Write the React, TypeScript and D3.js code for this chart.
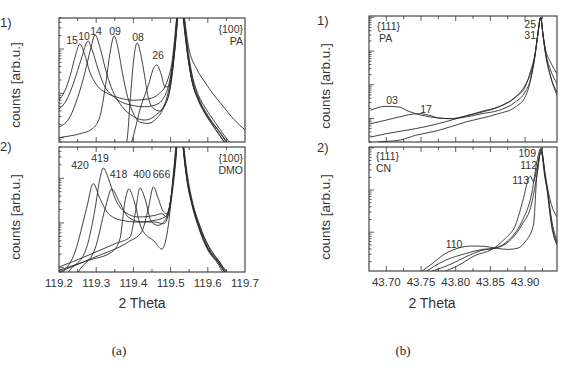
import React from "react";
import * as d3 from "d3";

type Pt = [number, number];

// (a) 1) {100} PA — 2θ, counts
const pa100_15: Pt[] = [
  [119.2, 7.1], [119.215, 11], [119.23, 25], [119.245, 75], [119.256, 130], [119.268, 80], [119.283, 30],
  [119.3, 16], [119.33, 10], [119.36, 8], [119.4, 7], [119.44, 7.5], [119.47, 10], [119.49, 18], [119.505, 60],
  [119.515, 400], [119.525, 3000], [119.535, 450], [119.545, 95], [119.558, 25], [119.575, 9], [119.595, 4.5],
  [119.62, 2.2], [119.645, 1.1], [119.67, 0.6],
];
const pa100_10: Pt[] = [
  [119.2, 4.4], [119.22, 7], [119.24, 18], [119.26, 60], [119.278, 151], [119.29, 90], [119.305, 35],
  [119.32, 16], [119.35, 8], [119.39, 5.5], [119.43, 5], [119.46, 5.5], [119.485, 9], [119.5, 25],
  [119.512, 150], [119.525, 3000], [119.535, 700], [119.548, 115], [119.57, 36], [119.592, 18],
  [119.615, 9.5], [119.638, 5.5], [119.67, 2.6], [119.7, 1.5],
];
const pa100_14: Pt[] = [
  [119.2, 1.74], [119.23, 3], [119.25, 8], [119.27, 30], [119.285, 100], [119.297, 207], [119.31, 110],
  [119.325, 35], [119.34, 14], [119.37, 5], [119.4, 3], [119.43, 2.5], [119.46, 3.2], [119.485, 6],
  [119.5, 20], [119.51, 80], [119.518, 400], [119.527, 3000], [119.538, 400], [119.548, 80], [119.56, 20],
  [119.578, 7], [119.6, 3.2], [119.625, 1.6], [119.65, 0.8], [119.665, 0.6],
];
const pa100_09: Pt[] = [
  [119.2, 1.0], [119.23, 1.1], [119.26, 1.25], [119.29, 1.6], [119.31, 3], [119.325, 15], [119.338, 90],
  [119.348, 196], [119.358, 110], [119.37, 30], [119.385, 8], [119.4, 3.5], [119.42, 2.2], [119.44, 2.1],
  [119.46, 2.6], [119.48, 4.5], [119.5, 15], [119.51, 70], [119.518, 400], [119.525, 3000], [119.535, 500],
  [119.545, 90], [119.556, 22], [119.573, 8], [119.59, 4], [119.615, 2], [119.64, 1.1], [119.66, 0.6],
];
const pa100_08: Pt[] = [
  [119.37, 0.5], [119.382, 0.8], [119.392, 8], [119.4, 50], [119.41, 137], [119.42, 75], [119.43, 25],
  [119.44, 8], [119.455, 4.5], [119.47, 4], [119.485, 5.5], [119.5, 15], [119.51, 80], [119.518, 500],
  [119.525, 3000], [119.535, 500], [119.545, 85], [119.557, 20], [119.575, 7], [119.595, 3.2],
  [119.62, 1.6], [119.645, 0.8], [119.66, 0.6],
];
const pa100_26: Pt[] = [
  [119.385, 0.5], [119.395, 0.8], [119.42, 5], [119.44, 15], [119.455, 38], [119.463, 43.5], [119.474, 28],
  [119.485, 14], [119.494, 14], [119.503, 30], [119.512, 150], [119.525, 3000], [119.535, 400],
  [119.545, 80], [119.557, 20], [119.574, 7], [119.592, 3.8], [119.615, 1.8], [119.64, 0.9], [119.655, 0.6],
];

// (a) 2) {100} DMO
const dmo420: Pt[] = [
  [119.2, 0.7], [119.243, 2.24], [119.274, 20.9], [119.292, 76], [119.31, 35], [119.333, 16.1],
  [119.368, 11.5], [119.413, 10.5], [119.458, 11.5], [119.485, 13.6], [119.498, 24.8], [119.512, 231],
  [119.526, 3000], [119.534, 500], [119.543, 116], [119.557, 29.4], [119.575, 8.85], [119.601, 2.66],
  [119.628, 1.34], [119.646, 0.8], [119.66, 0.6],
];
const dmo419: Pt[] = [
  [119.21, 0.5], [119.225, 0.8], [119.27, 2.24], [119.297, 20.9], [119.31, 98], [119.319, 170],
  [119.333, 98], [119.351, 35], [119.377, 17.6], [119.413, 13.6], [119.458, 14.8], [119.476, 16.1],
  [119.49, 13.6], [119.503, 49], [119.514, 326], [119.526, 3000], [119.535, 550], [119.545, 120],
  [119.558, 32], [119.577, 9.5], [119.603, 2.8], [119.63, 1.4], [119.65, 0.8], [119.665, 0.6],
];
const dmo418: Pt[] = [
  [119.24, 0.5], [119.252, 0.8], [119.297, 2.66], [119.324, 20.9], [119.342, 58], [119.36, 32],
  [119.386, 13.6], [119.422, 10.5], [119.458, 10.5], [119.481, 9.6], [119.498, 20.9], [119.512, 164],
  [119.526, 3000], [119.534, 480], [119.543, 110], [119.557, 28], [119.575, 8.5], [119.601, 2.5],
  [119.628, 1.3], [119.648, 0.75], [119.66, 0.6],
];
const dmoMid: Pt[] = [
  [119.2, 0.87], [119.279, 1.46], [119.342, 2.24], [119.364, 4.45], [119.377, 29.4], [119.388, 58],
  [119.4, 35], [119.422, 7.5], [119.458, 3.75], [119.476, 2.6], [119.494, 8.85], [119.507, 116],
  [119.526, 3000], [119.534, 450], [119.543, 100], [119.557, 26], [119.575, 8], [119.601, 2.4],
  [119.628, 1.2], [119.64, 0.8], [119.655, 0.6],
];
const dmo400: Pt[] = [
  [119.2, 1.03], [119.279, 1.9], [119.351, 3.44], [119.391, 4.85], [119.404, 14.8], [119.418, 60.5],
  [119.431, 35], [119.449, 10.5], [119.467, 8.85], [119.485, 11.5], [119.498, 24.8], [119.512, 195],
  [119.526, 3000], [119.535, 500], [119.545, 100], [119.557, 30], [119.577, 9], [119.605, 2.8],
  [119.63, 1.4], [119.655, 0.7],
];
const dmo666: Pt[] = [
  [119.2, 0.8], [119.297, 1.73], [119.386, 3.75], [119.422, 6.3], [119.44, 20.9], [119.454, 64],
  [119.467, 35], [119.481, 17.6], [119.49, 16.1], [119.503, 49], [119.512, 231], [119.526, 3000],
  [119.534, 520], [119.543, 115], [119.557, 30], [119.575, 9], [119.601, 2.7], [119.628, 1.35],
  [119.648, 0.75], [119.66, 0.6],
];

// (b) 1) {111} PA
const pa111_03: Pt[] = [
  [43.677, 17.4], [43.6986, 22.9], [43.7177, 21.9], [43.732, 16.3], [43.7513, 12.4], [43.775, 10.3],
  [43.794, 9.85], [43.814, 11], [43.838, 13.9], [43.862, 17.4], [43.886, 30.7], [43.9, 61], [43.908, 150],
  [43.914, 700], [43.918, 2800], [43.9225, 10000], [43.926, 2800], [43.93, 750], [43.936, 200], [43.946, 48.5],
];
const pa111_17: Pt[] = [
  [43.677, 7.0], [43.6986, 8.8], [43.7177, 11], [43.7465, 13.9], [43.766, 11.8], [43.775, 10.3],
  [43.794, 9.85], [43.814, 11.8], [43.838, 15.5], [43.862, 21.9], [43.886, 43], [43.9, 96], [43.908, 220],
  [43.914, 700], [43.918, 2800], [43.9225, 10000], [43.926, 2800], [43.93, 800], [43.936, 300], [43.946, 108],
];
const pa111_25: Pt[] = [
  [43.677, 2.8], [43.7, 3.53], [43.742, 4.97], [43.775, 7.0], [43.814, 11.8], [43.838, 16.3],
  [43.862, 22.4], [43.886, 43], [43.9, 86], [43.908, 260], [43.914, 750], [43.918, 2800], [43.9225, 10000],
  [43.926, 3000], [43.93, 1000], [43.936, 500], [43.946, 213],
];
const pa111_31: Pt[] = [
  [43.675, 1.7], [43.689, 2.0], [43.7177, 2.24], [43.742, 3.15], [43.775, 4.4], [43.814, 7.8],
  [43.838, 10.3], [43.862, 13.9], [43.886, 21.9], [43.9, 43], [43.908, 140], [43.914, 650], [43.918, 2700],
  [43.9225, 10000], [43.926, 2700], [43.93, 700], [43.936, 200], [43.946, 60],
];

// (b) 2) {111} CN
const cn110: Pt[] = [
  [43.745, 1.0], [43.766, 1.79], [43.785, 3.1], [43.804, 4.2], [43.823, 4.7], [43.842, 4.6], [43.857, 4.2],
  [43.876, 3.9], [43.89, 4.2], [43.9, 5.9], [43.912, 14.6], [43.917, 224], [43.92, 500], [43.923, 950],
  [43.926, 520], [43.929, 240], [43.932, 120], [43.938, 45], [43.946, 23],
];
const cn109: Pt[] = [
  [43.755, 1.0], [43.761, 1.1], [43.7945, 1.79], [43.814, 2.58], [43.838, 3.7], [43.857, 4.2], [43.876, 6.4],
  [43.895, 17.5], [43.91, 90], [43.917, 466], [43.923, 1000], [43.929, 224], [43.932, 110], [43.938, 21],
  [43.946, 5.9],
];
const cn112: Pt[] = [
  [43.751, 1.0], [43.785, 2.15], [43.814, 3.1], [43.838, 3.9], [43.857, 4.2], [43.876, 5.9], [43.895, 14.6],
  [43.91, 52], [43.917, 224], [43.923, 900], [43.929, 200], [43.932, 90], [43.938, 14.6], [43.946, 4.9],
];
const cn113: Pt[] = [
  [43.78, 1.1], [43.804, 1.64], [43.828, 2.8], [43.852, 3.9], [43.871, 7.0], [43.886, 14.6], [43.8976, 62.7],
  [43.905, 187], [43.908, 213], [43.912, 156], [43.917, 323], [43.923, 805], [43.929, 180], [43.932, 108],
  [43.938, 17], [43.946, 5.35],
];

const xTicksA = [119.2, 119.3, 119.4, 119.5, 119.6, 119.7];
const xTicksB = [43.7, 43.75, 43.8, 43.85, 43.9];

const FONT = "'Liberation Sans', Arial, Helvetica, sans-serif";
const INK = "#333";

type Box = { l: number; r: number; t: number; b: number };
type Note = { text: string; dx: number; y: number; anchor?: string };

type PanelProps = {
  id: string;
  box: Box;
  xDomain: [number, number];
  yDomain: [number, number];
  series: Pt[][];
  major: number[];
  minorStep: number;
  fmt: string;
  showLabels: boolean;
  notes: Note[];
};

function Panel({ id, box, xDomain, yDomain, series, major, minorStep, fmt, showLabels, notes }: PanelProps) {
  const x = d3.scaleLinear().domain(xDomain).range([box.l, box.r]);
  const y = d3.scaleLog().domain(yDomain).range([box.b, box.t]);
  const line = d3
    .line<Pt>()
    .x((d) => x(d[0]))
    .y((d) => y(d[1]))
    .curve(d3.curveMonotoneX);

  const minor = d3
    .range(major[0] - minorStep * 4, xDomain[1] + 1e-9, minorStep)
    .filter((v) => v > xDomain[0] + 1e-6 && v < xDomain[1] - 1e-6);
  const yTicks = y.ticks();
  const isDecade = (t: number) => Math.abs(Math.log10(t) - Math.round(Math.log10(t))) < 1e-6;
  const f = d3.format(fmt);

  return (
    <g>
      <defs>
        <clipPath id={id}>
          <rect x={box.l} y={box.t} width={box.r - box.l} height={box.b - box.t} />
        </clipPath>
      </defs>
      <g clipPath={`url(#${id})`} fill="none" stroke="#2b2b2b" strokeWidth={0.9}>
        {series.map((s, i) => (
          <path key={i} d={line(s) ?? ""} />
        ))}
      </g>
      <g stroke={INK} strokeWidth={0.8}>
        {minor.map((v, i) => {
          const isMajor = major.some((m) => Math.abs(m - v) < 1e-6);
          const len = isMajor ? 5 : 3;
          return (
            <g key={i}>
              <line x1={x(v)} x2={x(v)} y1={box.b} y2={box.b - len} />
              <line x1={x(v)} x2={x(v)} y1={box.t} y2={box.t + len} />
            </g>
          );
        })}
        {yTicks.map((t, i) => {
          const len = isDecade(t) ? 5 : 2.5;
          return <line key={i} x1={box.l} x2={box.l + len} y1={y(t)} y2={y(t)} />;
        })}
      </g>
      <rect
        x={box.l}
        y={box.t}
        width={box.r - box.l}
        height={box.b - box.t}
        fill="none"
        stroke={INK}
        strokeWidth={1.1}
      />
      {showLabels &&
        major.map((v, i) => (
          <text key={i} x={x(v)} y={box.b + 14.5} textAnchor="middle" fontSize={11.5} fill={INK}>
            {f(v)}
          </text>
        ))}
      {notes.map((n, i) => (
        <text
          key={i}
          x={box.l + n.dx}
          y={n.y}
          textAnchor={n.anchor ?? "middle"}
          fontSize={10.5}
          fill={INK}
        >
          {n.text}
        </text>
      ))}
    </g>
  );
}

export default function App() {
  const boxA1: Box = { l: 59, r: 245, t: 18, b: 142 };
  const boxA2: Box = { l: 59, r: 245, t: 147, b: 272 };
  const boxB1: Box = { l: 369, r: 557, t: 16, b: 142 };
  const boxB2: Box = { l: 369, r: 557, t: 147, b: 271 };

  return (
    <svg
      width={562}
      height={373}
      style={{ position: "absolute", left: 0, top: 0, background: "#fff" }}
      fontFamily={FONT}
    >
      <Panel
        id="clipA1"
        box={boxA1}
        xDomain={[119.2, 119.7]}
        yDomain={[0.8, 500]}
        series={[pa100_15, pa100_10, pa100_14, pa100_09, pa100_08, pa100_26]}
        major={xTicksA}
        minorStep={0.05}
        fmt=".1f"
        showLabels={false}
        notes={[
          { text: "15", dx: 13, y: 44 },
          { text: "10", dx: 25, y: 40 },
          { text: "14", dx: 37, y: 35 },
          { text: "09", dx: 56, y: 35 },
          { text: "08", dx: 79, y: 41 },
          { text: "26", dx: 99, y: 59 },
          { text: "{100}", dx: 184, y: 32.5, anchor: "end" },
          { text: "PA", dx: 184, y: 44.5, anchor: "end" },
        ]}
      />
      <Panel
        id="clipA2"
        box={boxA2}
        xDomain={[119.2, 119.7]}
        yDomain={[0.8, 500]}
        series={[dmo420, dmo419, dmo418, dmoMid, dmo400, dmo666]}
        major={xTicksA}
        minorStep={0.05}
        fmt=".1f"
        showLabels={true}
        notes={[
          { text: "420", dx: 21, y: 169 },
          { text: "419", dx: 41, y: 162 },
          { text: "418", dx: 59.5, y: 178 },
          { text: "400", dx: 83, y: 178 },
          { text: "666", dx: 102.5, y: 178 },
          { text: "{100}", dx: 184, y: 162, anchor: "end" },
          { text: "DMO", dx: 184, y: 174, anchor: "end" },
        ]}
      />
      <Panel
        id="clipB1"
        box={boxB1}
        xDomain={[43.675, 43.946]}
        yDomain={[2, 11000]}
        series={[pa111_03, pa111_17, pa111_25, pa111_31]}
        major={xTicksB}
        minorStep={0.025}
        fmt=".2f"
        showLabels={false}
        notes={[
          { text: "{111}", dx: 8, y: 30, anchor: "start" },
          { text: "PA", dx: 10, y: 42, anchor: "start" },
          { text: "25", dx: 167, y: 28, anchor: "end" },
          { text: "31", dx: 167, y: 39, anchor: "end" },
          { text: "03", dx: 23, y: 104 },
          { text: "17", dx: 57, y: 113 },
        ]}
      />
      <Panel
        id="clipB2"
        box={boxB2}
        xDomain={[43.675, 43.946]}
        yDomain={[1.2, 1050]}
        series={[cn110, cn109, cn112, cn113]}
        major={xTicksB}
        minorStep={0.025}
        fmt=".2f"
        showLabels={true}
        notes={[
          { text: "{111}", dx: 7, y: 160, anchor: "start" },
          { text: "CN", dx: 7, y: 172, anchor: "start" },
          { text: "109", dx: 167, y: 157, anchor: "end" },
          { text: "112", dx: 168, y: 168.5, anchor: "end" },
          { text: "113", dx: 160, y: 184, anchor: "end" },
          { text: "110", dx: 85, y: 247.5 },
        ]}
      />

      <g fill={INK} fontSize={13}>
        <text x={0} y={27}>1)</text>
        <text x={0} y={151}>2)</text>
        <text x={317} y={25}>1)</text>
        <text x={317} y={152}>2)</text>
      </g>

      <g fill={INK} fontSize={13.5} textAnchor="middle">
        <text transform="translate(19.5,85) rotate(-90)">counts [arb.u.]</text>
        <text transform="translate(19.5,217) rotate(-90)">counts [arb.u.]</text>
        <text transform="translate(330,86) rotate(-90)">counts [arb.u.]</text>
        <text transform="translate(330,217) rotate(-90)">counts [arb.u.]</text>
      </g>

      <g fill={INK} fontSize={14} textAnchor="middle">
        <text x={142} y={308}>2 Theta</text>
        <text x={432} y={308}>2 Theta</text>
      </g>

      <g fill="#222" fontSize={13} textAnchor="middle" fontFamily="'Liberation Serif', 'DejaVu Serif', serif">
        <text x={119} y={355}>(a)</text>
        <text x={403} y={355}>(b)</text>
      </g>
    </svg>
  );
}
